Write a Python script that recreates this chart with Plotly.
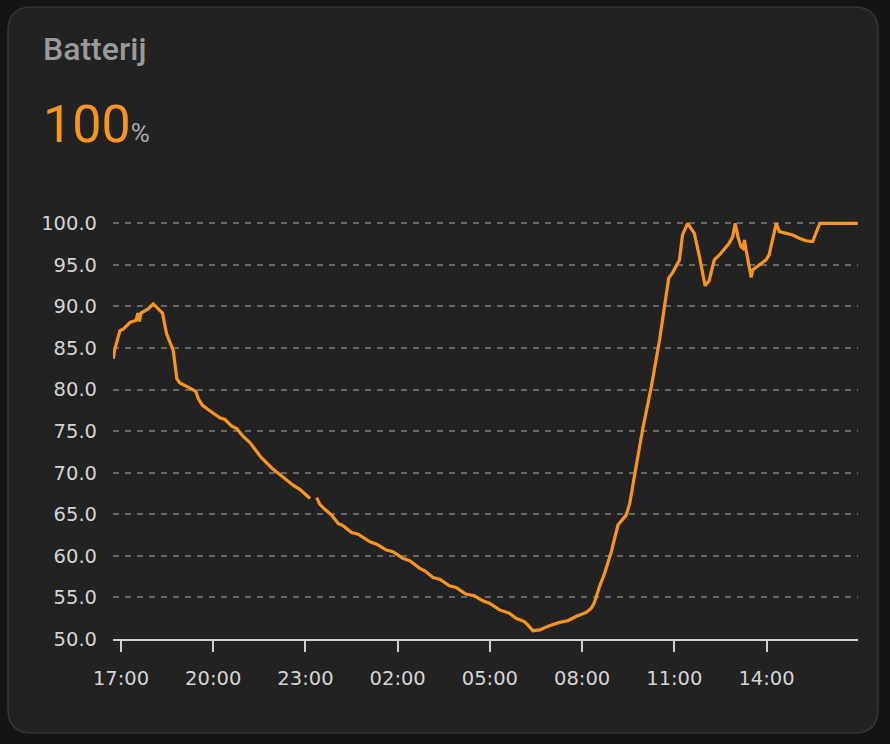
import plotly.graph_objects as go

# ---------------- data ----------------
day1_times = ["16:45", "16:48", "16:58", "17:05", "17:18", "17:29", "17:33", "17:36", "17:39",
              "17:53", "18:03", "18:13", "18:21", "18:29", "18:39", "18:42", "18:49", "18:55",
              "19:11", "19:26", "19:31", "19:39", "19:50", "19:57", "20:13", "20:23", "20:36",
              "20:46", "20:58", "21:12", "21:21", "21:34", "21:44", "21:57", "22:10", "22:24",
              "22:36", "22:49", "22:59", "23:09", "23:15", "23:22", "23:28", "23:38", "23:51"]
day1_values = [83.7, 84.9, 87.1, 87.3, 88.1, 88.3, 89.2, 88.2, 89.2,
               89.7, 90.3, 89.7, 89.2, 86.7, 85.1, 84.7, 81.3, 80.8,
               80.3, 79.8, 78.9, 78.1, 77.6, 77.3, 76.6, 76.4, 75.6,
               75.3, 74.4, 73.6, 72.9, 71.8, 71.2, 70.4, 69.8, 69.1,
               68.5, 68.0, 67.4, 66.9, None, 67.0, 66.2, 65.6, 64.9]

day2_times = ["00:04", "00:14", "00:30", "00:43", "01:06", "01:19", "01:38", "01:51", "02:10",
              "02:24", "02:43", "02:53", "03:09", "03:22", "03:41", "03:54", "04:13", "04:30",
              "04:46", "04:59", "05:19", "05:38", "05:51", "06:07", "06:14", "06:24", "06:37",
              "06:56", "07:16", "07:32", "07:48", "08:08", "08:18", "08:24", "08:34", "08:44",
              "08:57", "09:10", "09:26", "09:33", "09:43", "09:59", "10:15", "10:31", "10:49",
              "10:57", "11:10", "11:16", "11:26", "11:39", "11:49", "12:00", "12:08", "12:18",
              "12:28", "12:37", "12:47", "12:54", "12:59", "13:04", "13:10", "13:14", "13:17",
              "13:20", "13:30", "13:33", "13:46", "13:59", "14:05", "14:12", "14:19", "14:25",
              "14:38", "14:51", "15:04", "15:17", "15:30", "15:35", "15:44", "16:58"]
day2_values = [63.9, 63.6, 62.8, 62.6, 61.7, 61.4, 60.7, 60.5, 59.7,
               59.4, 58.5, 58.2, 57.4, 57.2, 56.4, 56.2, 55.4, 55.2,
               54.6, 54.3, 53.5, 53.1, 52.5, 52.1, 51.7, 51.0, 51.1,
               51.6, 52.0, 52.2, 52.7, 53.2, 53.7, 54.4, 56.3, 57.9,
               60.5, 63.7, 64.9, 66.3, 69.9, 75.5, 80.3, 85.9, 93.4,
               94.1, 95.6, 98.6, 100.0, 98.8, 96.0, 92.5, 93.1, 95.6,
               96.2, 96.8, 97.6, 98.4, 100.0, 98.4, 97.2, 97.0, 98.0,
               96.8, 93.5, 94.4, 95.0, 95.6, 96.2, 98.0, 100.0, 99.0,
               98.8, 98.6, 98.2, 97.9, 97.8, 98.6, 100.0, 100.0]

DAY1 = "2024-01-01"
DAY2 = "2024-01-02"
x_start = DAY1 + " 16:44:24"
x_end = DAY2 + " 16:58:30"
y_ticks = [50, 55, 60, 65, 70, 75, 80, 85, 90, 95, 100]
title_text = "Batterij"
current_value = "100"
unit = "%"

ORANGE = "#f8951f"

times = [f"{DAY1} {t}" for t in day1_times] + [f"{DAY2} {t}" for t in day2_times]
values = day1_values + day2_values

# ---------------- layout geometry ----------------
W, H = 890, 744
ML, MR, MT, MB = 113, 32, 215, 105
PW = W - ML - MR
PH = H - MT - MB


def px(x):
    return (x - ML) / PW


def py(y):
    return (H - MB - y) / PH


def rounded_rect(x0, y0, x1, y1, r):
    rx = r / PW
    ry = r / PH
    X0, X1 = px(x0), px(x1)
    Y0, Y1 = py(y0), py(y1)  # Y0 top (larger), Y1 bottom
    return (f"M {X0 + rx},{Y0} L {X1 - rx},{Y0} Q {X1},{Y0} {X1},{Y0 - ry} "
            f"L {X1},{Y1 + ry} Q {X1},{Y1} {X1 - rx},{Y1} "
            f"L {X0 + rx},{Y1} Q {X0},{Y1} {X0},{Y1 + ry} "
            f"L {X0},{Y0 - ry} Q {X0},{Y0} {X0 + rx},{Y0} Z")


fig = go.Figure()
fig.add_trace(go.Scatter(
    x=times, y=values, mode="lines",
    line=dict(color=ORANGE, width=3.2),
    connectgaps=False, hoverinfo="skip", showlegend=False,
))

TICK_FONT = dict(family="DejaVu Sans", size=19.5, color="#d4d4d4")

fig.update_layout(
    width=W, height=H,
    margin=dict(l=ML, r=MR, t=MT, b=MB, pad=0),
    paper_bgcolor="#151515",
    plot_bgcolor="rgba(0,0,0,0)",
    font=dict(family="Roboto, sans-serif", color="#d0d0d0", size=19),
    shapes=[dict(type="path", xref="paper", yref="paper", layer="below",
                 path=rounded_rect(8, 7, 878, 733, 24),
                 fillcolor="#222222", line=dict(color="#363636", width=1.5))],
    annotations=[
        dict(text=title_text, xref="paper", yref="paper", x=px(41), y=py(49),
             xanchor="left", yanchor="middle", showarrow=False,
             font=dict(family="Roboto", size=32, color="#9a9a9a", weight=500)),
        dict(text=(f"<span style='font-size:52px;color:{ORANGE}'>{current_value}</span>"
                   f"<span style='font-size:26px;color:#a8a8a8'>{unit}</span>"),
             xref="paper", yref="paper", x=px(41), y=py(124),
             xanchor="left", yanchor="middle", showarrow=False,
             font=dict(family="Roboto", size=52, color=ORANGE)),
    ],
)

fig.update_xaxes(
    type="date", range=[x_start, x_end],
    tick0=DAY1 + " 17:00", dtick=3 * 3600 * 1000, tickformat="%H:%M",
    showgrid=False, zeroline=False,
    showline=True, linecolor="#cfcfcf", linewidth=1.5,
    ticks="outside", ticklen=11, tickwidth=1.5, tickcolor="#cfcfcf",
    ticklabelstandoff=10,
    tickfont=TICK_FONT,
)
fig.update_yaxes(
    range=[50, 101], tickvals=y_ticks, tickformat=".1f",
    showgrid=True, gridcolor="#666666", gridwidth=1.5, griddash="6px,6px",
    zeroline=False, showline=False, ticks="",
    ticklabelstandoff=15,
    tickfont=TICK_FONT,
)

fig.write_html("out.html", config={"displayModeBar": False},
               post_script="document.body.style.margin='0';document.body.style.overflow='hidden';")
